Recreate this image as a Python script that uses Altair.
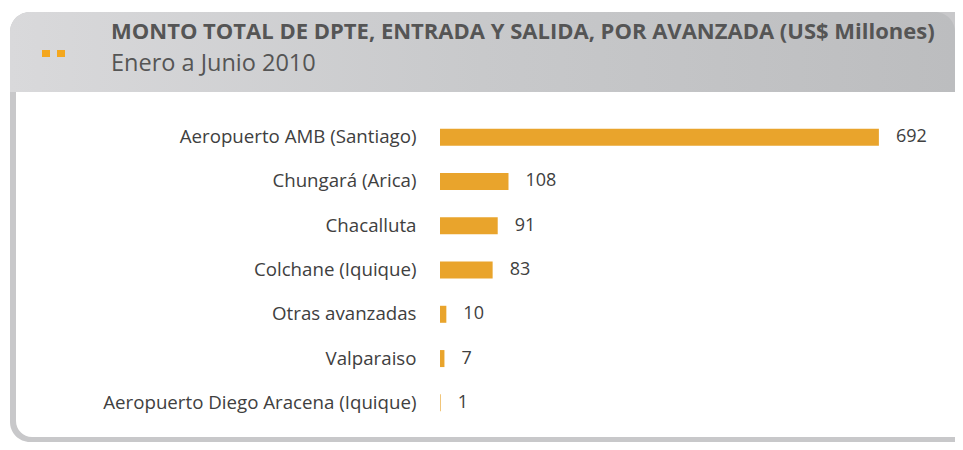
import altair as alt
import pandas as pd

categories = [
    "Aeropuerto AMB (Santiago)",
    "Chungará (Arica)",
    "Chacalluta",
    "Colchane (Iquique)",
    "Otras avanzadas",
    "Valparaiso",
    "Aeropuerto Diego Aracena (Iquique)",
]
values = [692, 108, 91, 83, 10, 7, 1]
title_text = "MONTO TOTAL DE DPTE, ENTRADA Y SALIDA, POR AVANZADA (US$ Millones)"
subtitle_text = "Enero a Junio 2010"

df = pd.DataFrame({"cat": categories, "val": values})

W, H = 515, 310
FONT = "Open Sans"
BAR = "#E9A42C"
TXT = "#404040"

one = alt.Data(values=[{}])

frame = alt.Chart(one).mark_rect(fill="#c8c8ca", cornerRadius=20).encode(
    x=alt.value(-430), x2=alt.value(540), y=alt.value(-103), y2=alt.value(327)
)
header = alt.Chart(one).mark_rect(
    cornerRadiusTopLeft=20, cornerRadiusTopRight=20,
    fill=alt.LinearGradient(
        gradient="linear", x1=0, x2=1, y1=0, y2=0,
        stops=[alt.GradientStop(color="#d9d9db", offset=0),
               alt.GradientStop(color="#c8c9cb", offset=0.5),
               alt.GradientStop(color="#bcbdbf", offset=1)],
    ),
).encode(x=alt.value(-430), x2=alt.value(515), y=alt.value(-103), y2=alt.value(-23))
body = alt.Chart(one).mark_rect(fill="white", cornerRadiusBottomLeft=16).encode(
    x=alt.value(-424), x2=alt.value(540), y=alt.value(-23), y2=alt.value(322)
)

sq1 = alt.Chart(one).mark_rect(fill="#F4A71E").encode(
    x=alt.value(-398), x2=alt.value(-390), y=alt.value(-65), y2=alt.value(-58)
)
sq2 = alt.Chart(one).mark_rect(fill="#F4A71E").encode(
    x=alt.value(-383), x2=alt.value(-375), y=alt.value(-65), y2=alt.value(-58)
)
title = alt.Chart(one).mark_text(
    align="left", baseline="alphabetic", font=FONT, fontSize=22, fontWeight="bold", color="#555555"
).encode(x=alt.value(-329), y=alt.value(-76), text=alt.value(title_text))
subtitle = alt.Chart(one).mark_text(
    align="left", baseline="alphabetic", font=FONT, fontSize=23.5, color="#555555"
).encode(x=alt.value(-329), y=alt.value(-44), text=alt.value(subtitle_text))

xs = alt.Scale(domain=[0, 812], nice=False, zero=True)
ys = alt.Scale(paddingInner=0.616, paddingOuter=0.308)

bars = alt.Chart(df).mark_bar(color=BAR).encode(
    x=alt.X("val:Q", scale=xs, axis=None),
    y=alt.Y("cat:N", sort=categories, scale=ys,
            axis=alt.Axis(title=None, domain=False, ticks=False, labelPadding=24,
                          labelFont=FONT, labelFontSize=18.7, labelColor=TXT, zindex=1,
                          labelLimit=400)),
)
labels = alt.Chart(df).mark_text(
    align="left", baseline="middle", dx=17, font=FONT, fontSize=18, color=TXT
).encode(
    x=alt.X("val:Q", scale=xs, axis=None),
    y=alt.Y("cat:N", sort=categories, scale=ys),
    text=alt.Text("val:Q"),
)

chart = alt.layer(frame, header, body, sq1, sq2, title, subtitle, bars, labels).properties(
    width=W, height=H,
    padding={"left": 432, "top": 107, "right": 0, "bottom": 17},
    autosize=alt.AutoSizeParams(type="none"),
    background="white",
).configure_view(stroke=None)

chart.save("out.html", embed_options={"renderer": "svg", "actions": False})
